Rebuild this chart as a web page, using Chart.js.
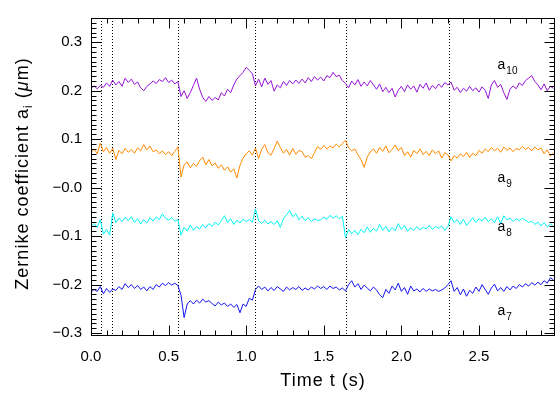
<!DOCTYPE html>
<html>
<head>
<meta charset="utf-8">
<script src="https://cdn.jsdelivr.net/npm/chart.js@4.4.1/dist/chart.umd.min.js"></script>
<style>
body{margin:0;background:#fff;}
canvas{display:block;}
</style>
</head>
<body>
<canvas id="zernikeChart" width="559" height="394"></canvas>
<script>
// sample step of the time series (s)
const dt = 0.02;

const a10 = [0.205,0.210,0.204,0.211,0.207,0.216,0.209,0.222,0.212,0.219,
0.209,0.226,0.217,0.224,0.213,0.218,0.206,0.200,0.209,0.214,
0.220,0.215,0.223,0.219,0.227,0.217,0.222,0.214,0.219,0.188,
0.200,0.184,0.196,0.211,0.226,0.203,0.186,0.178,0.188,0.180,
0.186,0.181,0.196,0.189,0.203,0.196,0.212,0.224,0.231,0.238,
0.248,0.242,0.235,0.210,0.224,0.208,0.226,0.213,0.221,0.199,
0.212,0.206,0.219,0.211,0.221,0.214,0.222,0.215,0.224,0.216,
0.227,0.219,0.229,0.222,0.228,0.220,0.231,0.227,0.238,0.229,
0.232,0.221,0.215,0.206,0.220,0.212,0.223,0.209,0.218,0.210,
0.221,0.212,0.203,0.214,0.198,0.207,0.196,0.205,0.187,0.201,
0.209,0.198,0.212,0.203,0.210,0.197,0.213,0.205,0.216,0.201,
0.211,0.204,0.214,0.207,0.217,0.212,0.218,0.201,0.207,0.196,
0.205,0.199,0.209,0.200,0.206,0.197,0.208,0.201,0.184,0.212,
0.221,0.207,0.213,0.196,0.182,0.203,0.210,0.204,0.216,0.211,
0.221,0.226,0.231,0.219,0.212,0.202,0.214,0.200,0.209,0.205];

const a9 = [0.072,0.080,0.070,0.092,0.074,0.083,0.071,0.081,0.058,0.077,
0.070,0.081,0.073,0.079,0.071,0.082,0.076,0.089,0.078,0.086,
0.074,0.078,0.070,0.076,0.068,0.074,0.066,0.075,0.084,0.022,
0.047,0.053,0.041,0.050,0.044,0.056,0.063,0.047,0.058,0.045,
0.051,0.040,0.047,0.036,0.043,0.032,0.039,0.020,0.046,0.061,
0.070,0.076,0.067,0.082,0.060,0.079,0.089,0.072,0.067,0.081,
0.096,0.083,0.071,0.079,0.067,0.081,0.069,0.077,0.074,0.063,
0.066,0.060,0.072,0.085,0.079,0.087,0.080,0.086,0.082,0.090,
0.084,0.091,0.098,0.082,0.076,0.080,0.068,0.058,0.042,0.063,
0.074,0.080,0.071,0.083,0.075,0.086,0.072,0.079,0.088,0.076,
0.083,0.066,0.074,0.063,0.077,0.070,0.080,0.068,0.075,0.066,
0.078,0.070,0.076,0.061,0.072,0.068,0.055,0.066,0.061,0.070,
0.064,0.073,0.062,0.071,0.066,0.077,0.071,0.080,0.074,0.083,
0.076,0.081,0.073,0.084,0.077,0.082,0.074,0.081,0.078,0.085,
0.079,0.083,0.076,0.084,0.078,0.082,0.070,0.078,0.065,0.072];

const a8 = [-0.080,-0.074,-0.082,-0.066,-0.096,-0.086,-0.098,-0.052,-0.072,-0.063,
-0.070,-0.061,-0.068,-0.060,-0.072,-0.064,-0.075,-0.066,-0.073,-0.062,
-0.069,-0.060,-0.066,-0.054,-0.063,-0.067,-0.062,-0.069,-0.066,-0.098,
-0.082,-0.090,-0.077,-0.088,-0.080,-0.085,-0.076,-0.083,-0.074,-0.080,
-0.071,-0.077,-0.068,-0.058,-0.072,-0.064,-0.076,-0.067,-0.073,-0.065,
-0.070,-0.066,-0.071,-0.044,-0.068,-0.074,-0.067,-0.075,-0.070,-0.076,
-0.068,-0.082,-0.064,-0.056,-0.047,-0.060,-0.054,-0.066,-0.059,-0.068,
-0.062,-0.070,-0.064,-0.068,-0.066,-0.061,-0.065,-0.057,-0.063,-0.058,
-0.064,-0.059,-0.103,-0.086,-0.095,-0.088,-0.097,-0.086,-0.093,-0.081,
-0.092,-0.084,-0.090,-0.076,-0.088,-0.080,-0.091,-0.082,-0.089,-0.074,
-0.086,-0.078,-0.090,-0.083,-0.088,-0.080,-0.087,-0.082,-0.085,-0.078,
-0.086,-0.080,-0.084,-0.079,-0.088,-0.080,-0.060,-0.072,-0.066,-0.076,
-0.065,-0.078,-0.070,-0.062,-0.072,-0.064,-0.069,-0.061,-0.070,-0.064,
-0.072,-0.060,-0.074,-0.058,-0.066,-0.063,-0.070,-0.064,-0.068,-0.063,
-0.067,-0.072,-0.069,-0.076,-0.071,-0.079,-0.072,-0.081,-0.075,-0.080];

const a7 = [-0.216,-0.210,-0.214,-0.204,-0.219,-0.208,-0.216,-0.209,-0.212,-0.204,
-0.210,-0.198,-0.206,-0.200,-0.208,-0.202,-0.210,-0.205,-0.213,-0.204,
-0.210,-0.200,-0.205,-0.197,-0.202,-0.196,-0.201,-0.197,-0.202,-0.222,
-0.268,-0.240,-0.233,-0.240,-0.232,-0.238,-0.230,-0.236,-0.233,-0.239,
-0.244,-0.236,-0.242,-0.238,-0.245,-0.240,-0.247,-0.241,-0.258,-0.240,
-0.245,-0.228,-0.232,-0.210,-0.203,-0.210,-0.205,-0.213,-0.206,-0.212,
-0.204,-0.209,-0.214,-0.205,-0.211,-0.206,-0.210,-0.204,-0.212,-0.207,
-0.211,-0.205,-0.209,-0.203,-0.208,-0.204,-0.210,-0.203,-0.208,-0.205,
-0.211,-0.207,-0.213,-0.200,-0.192,-0.205,-0.198,-0.210,-0.201,-0.207,
-0.213,-0.205,-0.211,-0.221,-0.227,-0.210,-0.218,-0.203,-0.211,-0.197,
-0.214,-0.206,-0.220,-0.203,-0.213,-0.209,-0.215,-0.208,-0.214,-0.209,
-0.213,-0.210,-0.214,-0.211,-0.207,-0.200,-0.192,-0.214,-0.206,-0.221,
-0.209,-0.224,-0.212,-0.218,-0.205,-0.214,-0.200,-0.210,-0.220,-0.207,
-0.199,-0.213,-0.206,-0.214,-0.204,-0.211,-0.203,-0.208,-0.200,-0.205,
-0.198,-0.203,-0.196,-0.201,-0.195,-0.200,-0.192,-0.197,-0.186,-0.190];

const seriesNames = ["a10","a9","a8","a7"];
const seriesSubs = ["10","9","8","7"];
const seriesColors = ["#9614d8","#ff8a00","#00f5f5","#1414f0"];

// dotted event markers (s)
const eventTimes = [0.065, 0.135, 0.56, 1.055, 1.64, 2.31];

const xTicks = [0.0, 0.5, 1.0, 1.5, 2.0, 2.5];
const yTicks = [-0.3, -0.2, -0.1, 0.0, 0.1, 0.2, 0.3];

// where the a_i labels sit, in data units
const labelX = [2.62, 2.62, 2.62, 2.62];
const labelY = [0.244, 0.012, -0.090, -0.262];

const times = a10.map((v, i) => +(i * dt).toFixed(2));
const allSeries = [a10, a9, a8, a7];

const FONT = "'Liberation Sans', Arial, sans-serif";

function fmtY(v){
  const r = Math.round(v * 10) / 10;
  if (r === 0) return "\u22120.0";
  return r < 0 ? "\u2212" + Math.abs(r).toFixed(1) : r.toFixed(1);
}

const framePlugin = {
  id: "frame",
  beforeDatasetsDraw(chart){
    const ctx = chart.ctx, a = chart.chartArea, xs = chart.scales.x;
    ctx.save();
    ctx.strokeStyle = "#000";
    ctx.lineWidth = 1;
    ctx.setLineDash([1, 2]);
    eventTimes.forEach(t => {
      const px = Math.round(xs.getPixelForValue(t)) + 0.5;
      ctx.beginPath();
      ctx.moveTo(px, a.top);
      ctx.lineTo(px, a.bottom);
      ctx.stroke();
    });
    ctx.restore();
  },
  afterDraw(chart){
    const ctx = chart.ctx, a = chart.chartArea;
    const xs = chart.scales.x, ys = chart.scales.y;
    ctx.save();
    ctx.strokeStyle = "#000";
    ctx.lineWidth = 1;
    ctx.setLineDash([]);
    const L = Math.round(a.left) + 0.5, R = Math.round(a.right) - 0.5;
    const T = Math.round(a.top) + 0.5, B = Math.round(a.bottom) - 0.5;
    ctx.strokeRect(L, T, R - L, B - T);

    ctx.beginPath();
    // x ticks every 0.1, bigger every 0.5
    for (let k = 0; k <= 29; k++){
      const px = Math.round(xs.getPixelForValue(k / 10)) + 0.5;
      const len = k % 5 === 0 ? 10 : 5;
      ctx.moveTo(px, B); ctx.lineTo(px, B - len);
      ctx.moveTo(px, T); ctx.lineTo(px, T + len);
    }
    // y ticks every 0.01, bigger every 0.1
    for (let k = -30; k <= 35; k++){
      const py = Math.round(ys.getPixelForValue(k / 100)) + 0.5;
      const len = k % 10 === 0 ? 10 : 5;
      ctx.moveTo(L, py); ctx.lineTo(L + len, py);
      ctx.moveTo(R, py); ctx.lineTo(R - len, py);
    }
    ctx.stroke();

    ctx.fillStyle = "#000";
    ctx.textBaseline = "alphabetic";

    // series labels
    seriesSubs.forEach((sub, i) => {
      const px = xs.getPixelForValue(labelX[i]);
      const py = ys.getPixelForValue(labelY[i]);
      ctx.font = "14px " + FONT;
      ctx.textAlign = "left";
      ctx.fillText("a", px, py);
      const w = ctx.measureText("a").width;
      ctx.font = "10px " + FONT;
      ctx.fillText(sub, px + w + 1, py + 5);
    });

    // x title
    ctx.font = "18px " + FONT;
    ctx.letterSpacing = "1px";
    ctx.textAlign = "center";
    ctx.fillText("Time t (s)", (a.left + a.right) / 2, 386);

    // y title, rotated, with subscript i and greek mu
    const parts = [
      {t: "Zernike coefficient a", f: "18px " + FONT, dy: 0},
      {t: "i", f: "12px " + FONT, dy: 4},
      {t: " (", f: "18px " + FONT, dy: 0},
      {t: "\u03bc", f: "italic 18px " + FONT, dy: 0},
      {t: "m)", f: "18px " + FONT, dy: 0}
    ];
    ctx.textAlign = "left";
    let total = 0;
    parts.forEach(p => { ctx.font = p.f; p.w = ctx.measureText(p.t).width; total += p.w; });
    ctx.translate(28, 173.5);
    ctx.rotate(-Math.PI / 2);
    let cx = -total / 2;
    parts.forEach(p => { ctx.font = p.f; ctx.fillText(p.t, cx, p.dy); cx += p.w; });
    ctx.restore();
  }
};

window.onload = function(){
  new Chart(
    document.getElementById("zernikeChart"),
    {
      type: "line",
      data: {
        datasets: allSeries.map((vals, i) => ({
          label: seriesNames[i],
          data: vals.map((v, j) => ({x: times[j], y: v})),
          borderColor: seriesColors[i],
          borderWidth: 1,
          pointRadius: 0,
          tension: 0,
          fill: false
        }))
      },
      options: {
        responsive: false,
        animation: false,
        layout: {padding: {top: 8, right: 4, left: 0, bottom: 0}},
        plugins: {legend: {display: false}, tooltip: {enabled: false}},
        scales: {
          x: {
            type: "linear",
            min: 0,
            max: 2.99,
            grid: {display: false, drawTicks: false},
            border: {display: false},
            afterBuildTicks: s => { s.ticks = xTicks.map(v => ({value: v})); },
            afterFit: s => { s.height = 58; },
            ticks: {
              color: "#000",
              font: {family: FONT, size: 15},
              padding: 12,
              maxRotation: 0,
              autoSkip: false,
              callback: v => (+v).toFixed(1)
            }
          },
          y: {
            type: "linear",
            min: -0.306,
            max: 0.35,
            grid: {display: false, drawTicks: false},
            border: {display: false},
            afterBuildTicks: s => { s.ticks = yTicks.map(v => ({value: v})); },
            afterFit: s => { s.width = 91; },
            ticks: {
              color: "#000",
              font: {family: FONT, size: 15},
              padding: 9,
              autoSkip: false,
              callback: v => fmtY(v)
            }
          }
        }
      },
      plugins: [framePlugin]
    }
  );
};
</script>
</body>
</html>
